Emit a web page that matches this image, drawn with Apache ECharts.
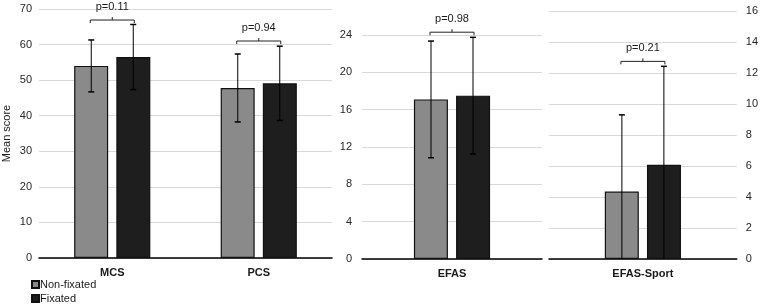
<!DOCTYPE html>
<html>
<head>
<meta charset="utf-8">
<script src="https://cdn.jsdelivr.net/npm/echarts@6/dist/echarts.min.js"></script>
<style>
  html, body {margin: 0; padding: 0; background: #fff;}
  #chart {width: 761px; height: 304px;}
</style>
</head>
<body>
<div id="chart"></div>
<script>
// values
const categories = ['MCS', 'PCS', 'EFAS', 'EFAS-Sport'];
const panelOf = [0, 0, 1, 2];
const nonFixatedMean = [54.0, 47.8, 17.1, 4.35];
const nonFixatedSD = [7.3, 9.55, 6.25, 4.95];
const fixatedMean = [56.5, 49.1, 17.5, 6.08];
const fixatedSD = [9.15, 10.45, 6.25, 6.35];
const pLabels = ['p=0.11', 'p=0.94', 'p=0.98', 'p=0.21'];
const bracketLevel = [66.9, 61.0, 24.3, 12.75];
const yMax = [70, 24, 16];
const yStep = [10, 4, 2];
const seriesNames = ['Non-fixated', 'Fixated'];

const chart = echarts.init(document.getElementById('chart'));

const font = 'Liberation Sans, Arial, sans-serif';
const GREY = '#8a8a8a', BLACK = '#1e1e1e';
const TXT = '#1a1a1a';
const grids = [
    {left: 37, top: 9, width: 295, height: 249},
    {left: 362, top: 35, width: 180, height: 224},
    {left: 549, top: 11, width: 189, height: 248}
];

const panelCats = [0, 1, 2].map(p => categories.filter((c, i) => panelOf[i] === p));
const pick = (arr, p) => arr.filter((v, i) => panelOf[i] === p);

const xAxis = grids.map((g, p) => ({
    type: 'category',
    gridIndex: p,
    data: panelCats[p],
    axisTick: {show: false},
    axisLine: {lineStyle: {color: '#000', width: 1.5}},
    axisLabel: {fontFamily: font, fontSize: 11, fontWeight: 'bold', color: TXT, margin: 9}
}));

const yAxis = grids.map((g, p) => ({
    type: 'value',
    gridIndex: p,
    min: 0,
    max: yMax[p],
    interval: yStep[p],
    position: p === 2 ? 'right' : 'left',
    name: p === 0 ? 'Mean score' : '',
    nameLocation: 'middle',
    nameGap: 27,
    nameTextStyle: {fontFamily: font, fontSize: 11, color: TXT},
    axisLine: {show: false},
    axisTick: {show: false},
    splitLine: {lineStyle: {color: '#d9d9d9', width: 1}},
    axisLabel: {fontFamily: font, fontSize: 11, color: '#262626', margin: p === 1 ? 10 : (p === 0 ? 7 : 9)}
}));

const OFF = 21;
function errorSeries(p, means, sds, dir) {
    return {
        type: 'custom',
        xAxisIndex: p, yAxisIndex: p,
        z: 5,
        clip: false,
        silent: true,
        data: pick(means, p).map((m, i) => [i, m, pick(sds, p)[i]]),
        renderItem: (params, api) => {
            const i = api.value(0), m = api.value(1), sd = api.value(2);
            const lo = Math.max(0, m - sd), hi = m + sd;
            const top = api.coord([i, hi]);
            const bot = api.coord([i, lo]);
            const x = top[0] + dir * OFF;
            const kids = [
                {type: 'line', shape: {x1: x, y1: top[1], x2: x, y2: bot[1]}, style: {stroke: '#000', lineWidth: 1}},
                {type: 'line', shape: {x1: x - 3, y1: top[1], x2: x + 3, y2: top[1]}, style: {stroke: '#000', lineWidth: 1.5}}
            ];
            if (m - sd >= 0) {
                kids.push({type: 'line', shape: {x1: x - 3, y1: bot[1], x2: x + 3, y2: bot[1]}, style: {stroke: '#000', lineWidth: 1.5}});
            }
            return {type: 'group', children: kids};
        }
    };
}

function bracketSeries(p) {
    const labels = pick(pLabels, p);
    return {
        type: 'custom',
        xAxisIndex: p, yAxisIndex: p,
        z: 6,
        clip: false,
        silent: true,
        data: pick(bracketLevel, p).map((lv, i) => [i, lv]),
        renderItem: (params, api) => {
            const c = api.coord([api.value(0), api.value(1)]);
            const x = c[0], y = c[1], w = 22;
            return {
                type: 'group',
                children: [
                    {type: 'polyline', shape: {points: [[x - w, y + 3], [x - w, y], [x + w, y], [x + w, y + 3]]},
                        style: {stroke: '#222', lineWidth: 1, fill: null}},
                    {type: 'line', shape: {x1: x, y1: y, x2: x, y2: y - 3}, style: {stroke: '#222', lineWidth: 1}},
                    {type: 'text', x: x, y: y - 13,
                        style: {text: labels[params.dataIndex], fontFamily: font, fontSize: 11,
                            fill: TXT, align: 'center', verticalAlign: 'middle'}}
                ]
            };
        }
    };
}

const series = [];
[0, 1, 2].forEach(p => {
    series.push({
        name: seriesNames[0], type: 'bar', xAxisIndex: p, yAxisIndex: p,
        barWidth: 34, barGap: '24%',
        itemStyle: {color: GREY, borderColor: '#111', borderWidth: 1.2},
        data: pick(nonFixatedMean, p)
    });
    series.push({
        name: seriesNames[1], type: 'bar', xAxisIndex: p, yAxisIndex: p,
        barWidth: 34, barGap: '24%',
        itemStyle: {color: BLACK, borderColor: '#111', borderWidth: 1.2},
        data: pick(fixatedMean, p)
    });
    series.push(errorSeries(p, nonFixatedMean, nonFixatedSD, -1));
    series.push(errorSeries(p, fixatedMean, fixatedSD, 1));
    series.push(bracketSeries(p));
});

const legendBase = {
    left: 31,
    itemWidth: 7,
    itemHeight: 7,
    itemGap: 0,
    itemTextGap: 1,
    padding: 0,
    icon: 'rect',
    selectedMode: false,
    textStyle: {fontFamily: font, fontSize: 11, color: TXT, padding: [0, 0, 0, -4]}
};

chart.setOption({
    animation: false,
    grid: grids,
    xAxis: xAxis,
    yAxis: yAxis,
    legend: [
        Object.assign({}, legendBase, {data: [seriesNames[0]], top: 279}),
        Object.assign({}, legendBase, {data: [seriesNames[1]], top: 293})
    ],
    series: series
});
</script>
</body>
</html>
